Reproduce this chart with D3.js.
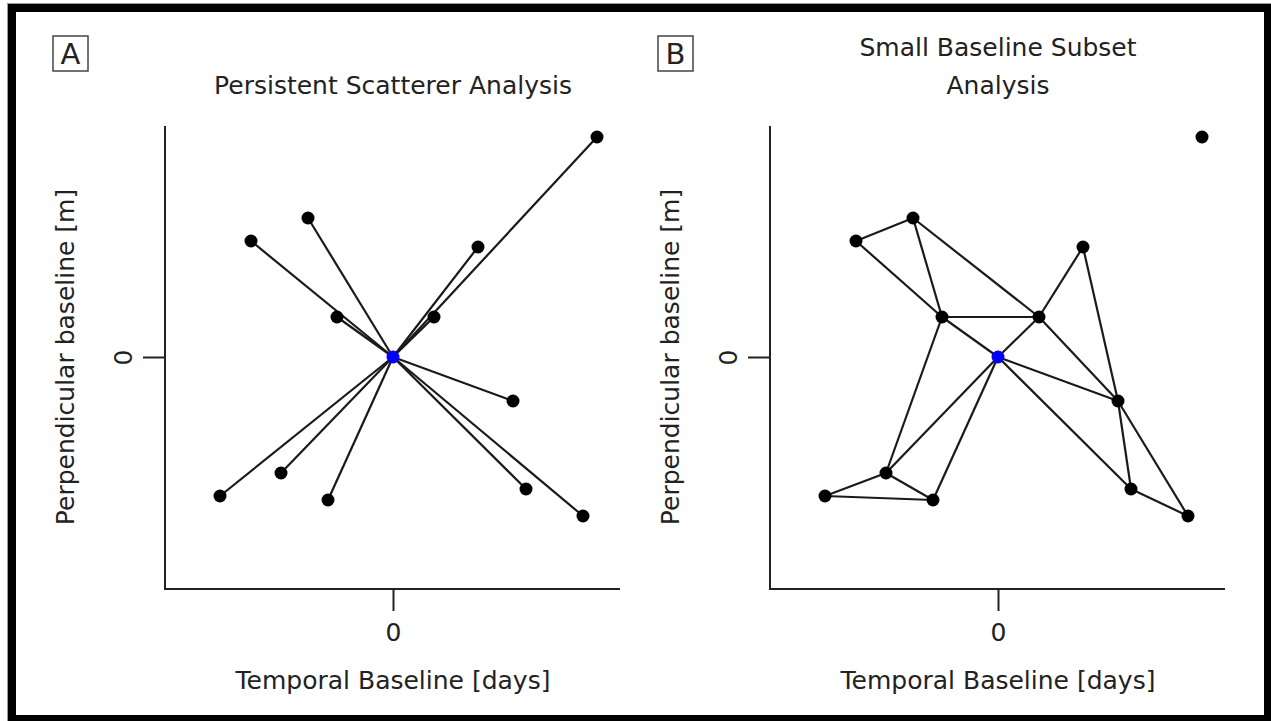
<!DOCTYPE html>
<html>
<head>
<meta charset="utf-8">
<script src="https://cdn.jsdelivr.net/npm/d3@7"></script>
<style>
  html, body { margin: 0; padding: 0; background: #fff; }
  svg text { font-family: "DejaVu Sans", sans-serif; fill: #222; }
</style>
</head>
<body>
<svg id="chart" width="1271" height="721"></svg>
<script>
// Scenes relative to the master acquisition at (0, 0):
// temporal baseline (x) and perpendicular baseline (y).
const temporalBaseline = [204, -85, -142, 85, -56, 41, 120, -112, -173, -65, 133, 190];
const perpBaseline     = [220, 139, 116, 110, 40, 40, -44, -116, -139, -143, -132, -159];
const master = { t: 0, p: 0 };

// Small-baseline interferogram pairs (scene indices, -1 = master scene)
const sbasFrom = [2, 2, 1, 1, 4,  4, 4,  5, 5, 5, 3, -1, -1, -1, -1, 7, 7, 8, 6,  6, 10];
const sbasTo   = [1, 4, 4, 5, 5, -1, 7, -1, 3, 6, 6,  6, 10,  7,  9, 8, 9, 9, 10, 11, 11];

const xTickValues = [0];
const yTickValues = [0];
const xTickLabels = ["0"];
const yTickLabels = ["0"];

const panelLetters = ["A", "B"];
const panelTitles = [["Persistent Scatterer Analysis"], ["Small Baseline Subset", "Analysis"]];
const xAxisTitle = "Temporal Baseline [days]";
const yAxisTitle = "Perpendicular baseline [m]";

const scenes = temporalBaseline.map((t, i) => ({ t, p: perpBaseline[i] }));
const sceneOf = i => (i < 0 ? master : scenes[i]);

const svg = d3.select("#chart");
const fontSize = "25px";

// outer frame
svg.append("rect").attr("x", 7.5).attr("y", 3.5).attr("width", 1270).attr("height", 720)
  .attr("fill", "none").attr("stroke", "#9a9a9a").attr("stroke-width", 1);
svg.append("rect").attr("x", 12).attr("y", 8).attr("width", 1256).attr("height", 711)
  .attr("fill", "none").attr("stroke", "#000").attr("stroke-width", 8);

const panelW = 455, plotTop = 126, plotBottom = 589;
const panelLeft = [165, 770];

function drawPanel(k) {
  const left = panelLeft[k];
  const x = d3.scaleLinear().domain([-228, 227]).range([left, left + panelW]);
  const y = d3.scaleLinear().domain([-232, 231]).range([plotBottom, plotTop]);
  const g = svg.append("g");

  // panel letter in a box
  const bx = left - 112;
  g.append("rect").attr("x", bx).attr("y", 36).attr("width", 35).attr("height", 35)
    .attr("fill", "none").attr("stroke", "#444").attr("stroke-width", 1.5);
  g.append("text").attr("x", bx + 17.5).attr("y", 64).attr("text-anchor", "middle")
    .style("font-size", "29px").text(panelLetters[k]);

  // title
  const lines = panelTitles[k];
  const cx = x(0);
  lines.forEach((ln, i) => {
    const base = 94 - (lines.length - 1 - i) * 38;
    g.append("text").attr("x", cx).attr("y", base).attr("text-anchor", "middle")
      .style("font-size", fontSize).text(ln);
  });

  // axes
  const xAxis = d3.axisBottom(x).tickValues(xTickValues).tickSize(22).tickSizeOuter(0)
    .tickFormat((d, i) => xTickLabels[i]);
  const yAxis = d3.axisLeft(y).tickValues(yTickValues).tickSize(22).tickSizeOuter(0)
    .tickFormat((d, i) => yTickLabels[i]);

  const gx = g.append("g").attr("transform", `translate(0,${plotBottom})`).call(xAxis);
  const gy = g.append("g").attr("transform", `translate(${left},0)`).call(yAxis);
  [gx, gy].forEach(a => {
    a.select(".domain").attr("stroke", "#222").attr("stroke-width", 2);
    a.selectAll(".tick line").attr("stroke", "#222").attr("stroke-width", 2);
    a.selectAll("text").style("font-size", fontSize).attr("fill", "#222")
      .style("font-family", '"DejaVu Sans", sans-serif');
  });
  gx.selectAll(".tick text").attr("y", 52).attr("dy", 0);
  gy.selectAll(".tick text").attr("transform", "rotate(-90)")
    .attr("x", 0).attr("y", -33).attr("dy", 0).attr("text-anchor", "middle");
  gy.select(".domain").attr("d", `M0,${plotTop}V${plotBottom + 1}`);
  gx.select(".domain").attr("d", `M${left - 1},0H${left + panelW}`);

  // axis titles
  g.append("text").attr("x", cx).attr("y", 689).attr("text-anchor", "middle")
    .style("font-size", fontSize).text(xAxisTitle);
  g.append("text").attr("transform", `translate(${left - 91},${y(0)}) rotate(-90)`)
    .attr("text-anchor", "middle").style("font-size", fontSize).text(yAxisTitle);

  // baselines
  const pairs = k === 0
    ? scenes.map((s, i) => [-1, i])
    : sbasFrom.map((f, i) => [f, sbasTo[i]]);
  g.append("g").selectAll("line").data(pairs).join("line")
    .attr("x1", d => x(sceneOf(d[0]).t)).attr("y1", d => y(sceneOf(d[0]).p))
    .attr("x2", d => x(sceneOf(d[1]).t)).attr("y2", d => y(sceneOf(d[1]).p))
    .attr("stroke", "#1a1a1a").attr("stroke-width", 2.2);

  // scenes
  g.append("g").selectAll("circle").data(scenes).join("circle")
    .attr("cx", d => x(d.t)).attr("cy", d => y(d.p)).attr("r", 6.5).attr("fill", "#000");
  g.append("circle").attr("cx", x(master.t)).attr("cy", y(master.p)).attr("r", 6.5)
    .attr("fill", "#0000ff");
}

drawPanel(0);
drawPanel(1);
</script>
</body>
</html>
